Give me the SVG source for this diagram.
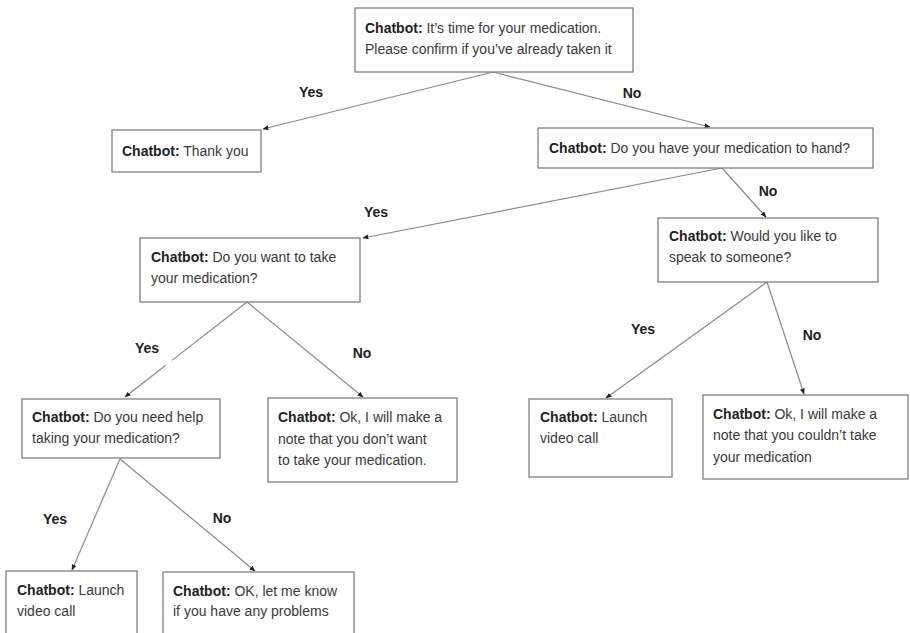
<svg xmlns="http://www.w3.org/2000/svg" width="910" height="633" viewBox="0 0 910 633">
  <style>
    .box { fill: #ffffff; stroke: #808080; stroke-width: 1.3; }
    .txt { font-family: "Liberation Sans", Arial, sans-serif; font-size: 14px; fill: #3a3a3a; }
    .b { font-weight: bold; fill: #222222; }
    .lbl { font-family: "Liberation Sans", Arial, sans-serif; font-size: 14px; font-weight: bold; fill: #222222; text-anchor: middle; }
    .edge { fill: none; stroke: #8a8a8a; stroke-width: 1.2; marker-end: url(#arrow); }
  </style>
  <defs>
    <marker id="arrow" viewBox="0 0 10 10" refX="9" refY="5" markerWidth="6" markerHeight="6" orient="auto" markerUnits="userSpaceOnUse">
      <path d="M0,1 L10,5 L0,9 Z" fill="#222222"/>
    </marker>
  </defs>
  <rect width="910" height="633" fill="#ffffff"/>

  <!-- connectors -->
  <g id="connectors">
    <path class="edge" d="M493,72 L263,129"/>
    <path class="edge" d="M493,72 L710,127"/>
    <path class="edge" d="M722,168 L363,238"/>
    <path class="edge" d="M722,168 L766,217"/>
    <path class="edge" d="M247,302 L125,397" stroke-dasharray="95 8 200"/>
    <path class="edge" d="M247,302 L363,397"/>
    <path class="edge" d="M767,282 L606,398"/>
    <path class="edge" d="M767,282 L804,394"/>
    <path class="edge" d="M120,459 L72,570"/>
    <path class="edge" d="M120,459 L255,571"/>
  </g>

  <!-- branch labels -->
  <g id="labels">
    <text class="lbl" x="311" y="97">Yes</text>
    <text class="lbl" x="632" y="98">No</text>
    <text class="lbl" x="376" y="217">Yes</text>
    <text class="lbl" x="768" y="196">No</text>
    <text class="lbl" x="147" y="353">Yes</text>
    <text class="lbl" x="362" y="358">No</text>
    <text class="lbl" x="643" y="334">Yes</text>
    <text class="lbl" x="812" y="340">No</text>
    <text class="lbl" x="55" y="524">Yes</text>
    <text class="lbl" x="222" y="523">No</text>
  </g>

  <g id="n-start">
    <rect class="box" x="355" y="8" width="278" height="64"/>
    <text class="txt" x="365" y="33"><tspan class="b">Chatbot:</tspan> It’s time for your medication.</text>
    <text class="txt" x="365" y="54">Please confirm if you’ve already taken it</text>
  </g>

  <g id="n-thanks">
    <rect class="box" x="112" y="130" width="149" height="42"/>
    <text class="txt" x="122" y="156"><tspan class="b">Chatbot:</tspan> Thank you</text>
  </g>

  <g id="n-tohand">
    <rect class="box" x="538" y="128" width="335" height="40"/>
    <text class="txt" x="549" y="153"><tspan class="b">Chatbot:</tspan> Do you have your medication to hand?</text>
  </g>

  <g id="n-wanttake">
    <rect class="box" x="140" y="238" width="220" height="64"/>
    <text class="txt" x="151" y="262"><tspan class="b">Chatbot:</tspan> Do you want to take</text>
    <text class="txt" x="151" y="283">your medication?</text>
  </g>

  <g id="n-speak">
    <rect class="box" x="658" y="218" width="220" height="64"/>
    <text class="txt" x="669" y="241"><tspan class="b">Chatbot:</tspan> Would you like to</text>
    <text class="txt" x="669" y="262">speak to someone?</text>
  </g>

  <g id="n-needhelp">
    <rect class="box" x="22" y="399" width="198" height="59"/>
    <text class="txt" x="32" y="422"><tspan class="b">Chatbot:</tspan> Do you need help</text>
    <text class="txt" x="32" y="443">taking your medication?</text>
  </g>

  <g id="n-notwant">
    <rect class="box" x="268" y="398" width="189" height="84"/>
    <text class="txt" x="278" y="422"><tspan class="b">Chatbot:</tspan> Ok, I will make a</text>
    <text class="txt" x="278" y="444">note that you don’t want</text>
    <text class="txt" x="278" y="465">to take your medication.</text>
  </g>

  <g id="n-video-right">
    <rect class="box" x="529" y="399" width="143" height="78"/>
    <text class="txt" x="540" y="422"><tspan class="b">Chatbot:</tspan> Launch</text>
    <text class="txt" x="540" y="443">video call</text>
  </g>

  <g id="n-couldnt">
    <rect class="box" x="703" y="395" width="205" height="84"/>
    <text class="txt" x="713" y="419"><tspan class="b">Chatbot:</tspan> Ok, I will make a</text>
    <text class="txt" x="713" y="440">note that you couldn’t take</text>
    <text class="txt" x="713" y="462">your medication</text>
  </g>

  <g id="n-video-left">
    <rect class="box" x="6" y="571" width="131" height="70"/>
    <text class="txt" x="17" y="595"><tspan class="b">Chatbot:</tspan> Launch</text>
    <text class="txt" x="17" y="616">video call</text>
  </g>

  <g id="n-letmeknow">
    <rect class="box" x="163" y="572" width="191" height="70"/>
    <text class="txt" x="173" y="596"><tspan class="b">Chatbot:</tspan> OK, let me know</text>
    <text class="txt" x="173" y="616">if you have any problems</text>
  </g>
</svg>
